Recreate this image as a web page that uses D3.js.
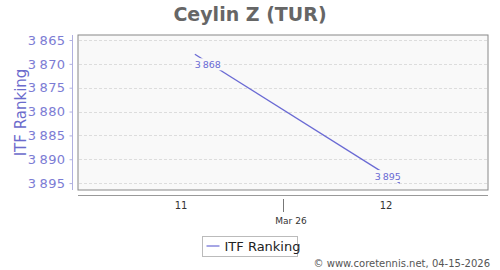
<!DOCTYPE html>
<html>
<head>
<meta charset="utf-8">
<script src="https://cdn.jsdelivr.net/npm/d3@7"></script>
<style>
  body { margin: 0; background: #fff; }
  text { font-family: "DejaVu Sans", sans-serif; }
</style>
</head>
<body>
<div id="chart"></div>
<script>
// Chart data
var weeks = [11.07, 12.07];
var rankings = [3868, 3895];
var weekTicks = [11, 12];
var yTicks = [3865, 3870, 3875, 3880, 3885, 3890, 3895];
var monthLabel = "Mar 26";
var seriesName = "ITF Ranking";

var svgWidth = 500;
var svgHeight = 270;

var margin = { top: 35, right: 12, bottom: 80, left: 78 };
var width = svgWidth - margin.left - margin.right;
var height = svgHeight - margin.top - margin.bottom;

var lineColor = "#6a6ad4";
var fmt = d => d3.format(",")(d).replace(",", "\u2009");

var svg = d3.select("#chart")
    .append("svg")
    .attr("width", svgWidth)
    .attr("height", svgHeight);

// Title
svg.append("text")
    .attr("x", 250)
    .attr("y", 21)
    .attr("text-anchor", "middle")
    .attr("font-size", "19px")
    .attr("font-weight", "bold")
    .attr("fill", "#666")
    .text("Ceylin Z (TUR)");

var chartGroup = svg.append("g")
    .attr("transform", `translate(${margin.left}, ${margin.top})`);

var xScale = d3.scaleLinear()
    .domain([10.5, 12.5])
    .range([0, width]);

var yScale = d3.scaleLinear()
    .domain([3863.95, 3896.45])
    .range([0, height]);

// plot background
chartGroup.append("rect")
    .attr("width", width)
    .attr("height", height)
    .attr("fill", "#f9f9f9")
    .attr("stroke", "#888")
    .attr("stroke-width", 1);

// grid lines
chartGroup.selectAll(".grid")
    .data(yTicks)
    .enter()
    .append("line")
    .attr("x1", 1)
    .attr("x2", width - 1)
    .attr("y1", d => Math.round(yScale(d)) + 0.5)
    .attr("y2", d => Math.round(yScale(d)) + 0.5)
    .attr("stroke", "#ddd")
    .attr("stroke-dasharray", "3,2");

// y axis, drawn a bit left of the plot
var leftAxis = d3.axisLeft(yScale)
    .tickValues(yTicks)
    .tickSize(3)
    .tickPadding(4)
    .tickFormat(fmt);

var yAxis = chartGroup.append("g")
    .attr("transform", "translate(-5.5, 0)")
    .call(leftAxis);
yAxis.select(".domain").attr("stroke", "#b0b0e0").attr("d", `M0,0V${height}`);
yAxis.selectAll(".tick line").attr("stroke", "#b0b0e0");
yAxis.selectAll(".tick text")
    .attr("fill", "#7c7cd4")
    .attr("font-size", "13px")
    .attr("letter-spacing", "0.4px")
    .attr("font-family", "DejaVu Sans, sans-serif");

svg.append("text")
    .attr("transform", `translate(26, ${margin.top + height / 2}) rotate(-90)`)
    .attr("text-anchor", "middle")
    .attr("font-size", "15px")
    .attr("fill", "#6b6bcc")
    .text(seriesName);

// x axis below the plot
var bottomAxis = d3.axisBottom(xScale)
    .tickValues(weekTicks)
    .tickSize(0)
    .tickPadding(6)
    .tickFormat(d3.format("d"));

var xAxis = chartGroup.append("g")
    .attr("transform", `translate(0, ${height + 5.5})`)
    .call(bottomAxis);
xAxis.select(".domain").attr("stroke", "#999").attr("d", `M0,0H${width}`);
xAxis.selectAll(".tick text")
    .attr("fill", "#333")
    .attr("font-size", "10px")
    .attr("font-family", "DejaVu Sans, sans-serif");

// month divider and label
chartGroup.append("line")
    .attr("x1", Math.round(xScale(11.5)) + 0.5)
    .attr("x2", Math.round(xScale(11.5)) + 0.5)
    .attr("y1", height + 9)
    .attr("y2", height + 22)
    .attr("stroke", "#777");

chartGroup.append("text")
    .attr("x", xScale(11.5) + 8)
    .attr("y", height + 34)
    .attr("text-anchor", "middle")
    .attr("font-size", "9px")
    .attr("fill", "#333")
    .text(monthLabel);

// series line
var points = weeks.map((w, i) => ({ week: w, rank: rankings[i] }));

var line = d3.line()
    .x(d => xScale(d.week))
    .y(d => yScale(d.rank));

chartGroup.append("path")
    .datum(points)
    .attr("d", line)
    .attr("fill", "none")
    .attr("stroke", lineColor)
    .attr("stroke-width", 1.3);

// point labels with background boxes
var labelOffsets = [[13, 12], [-12, -5]];
var labels = chartGroup.selectAll(".plabel")
    .data(points)
    .enter()
    .append("g")
    .attr("transform", (d, i) => `translate(${xScale(d.week) + labelOffsets[i][0]}, ${yScale(d.rank) + labelOffsets[i][1]})`);

labels.append("rect")
    .attr("x", -14)
    .attr("y", -8)
    .attr("width", 28)
    .attr("height", 12)
    .attr("fill", "#f9f9f9");

labels.append("text")
    .attr("text-anchor", "middle")
    .attr("y", 2)
    .attr("font-size", "9.5px")
    .attr("fill", "#6a6ad4")
    .text(d => fmt(d.rank));

// legend
var legend = svg.append("g")
    .attr("transform", "translate(202.5, 236.5)");
legend.append("rect")
    .attr("width", 95)
    .attr("height", 20)
    .attr("fill", "#fff")
    .attr("stroke", "#bbb");
legend.append("line")
    .attr("x1", 4)
    .attr("x2", 17)
    .attr("y1", 9.5)
    .attr("y2", 9.5)
    .attr("stroke", "#8888dd")
    .attr("stroke-width", 1.5);
legend.append("text")
    .attr("x", 22)
    .attr("y", 14.5)
    .attr("font-size", "13px")
    .attr("fill", "#222")
    .text(seriesName);

// credit
svg.append("text")
    .attr("x", 490)
    .attr("y", 267)
    .attr("text-anchor", "end")
    .attr("font-size", "10px")
    .attr("fill", "#555")
    .text("\u00a9 www.coretennis.net, 04-15-2026");
</script>
</body>
</html>
